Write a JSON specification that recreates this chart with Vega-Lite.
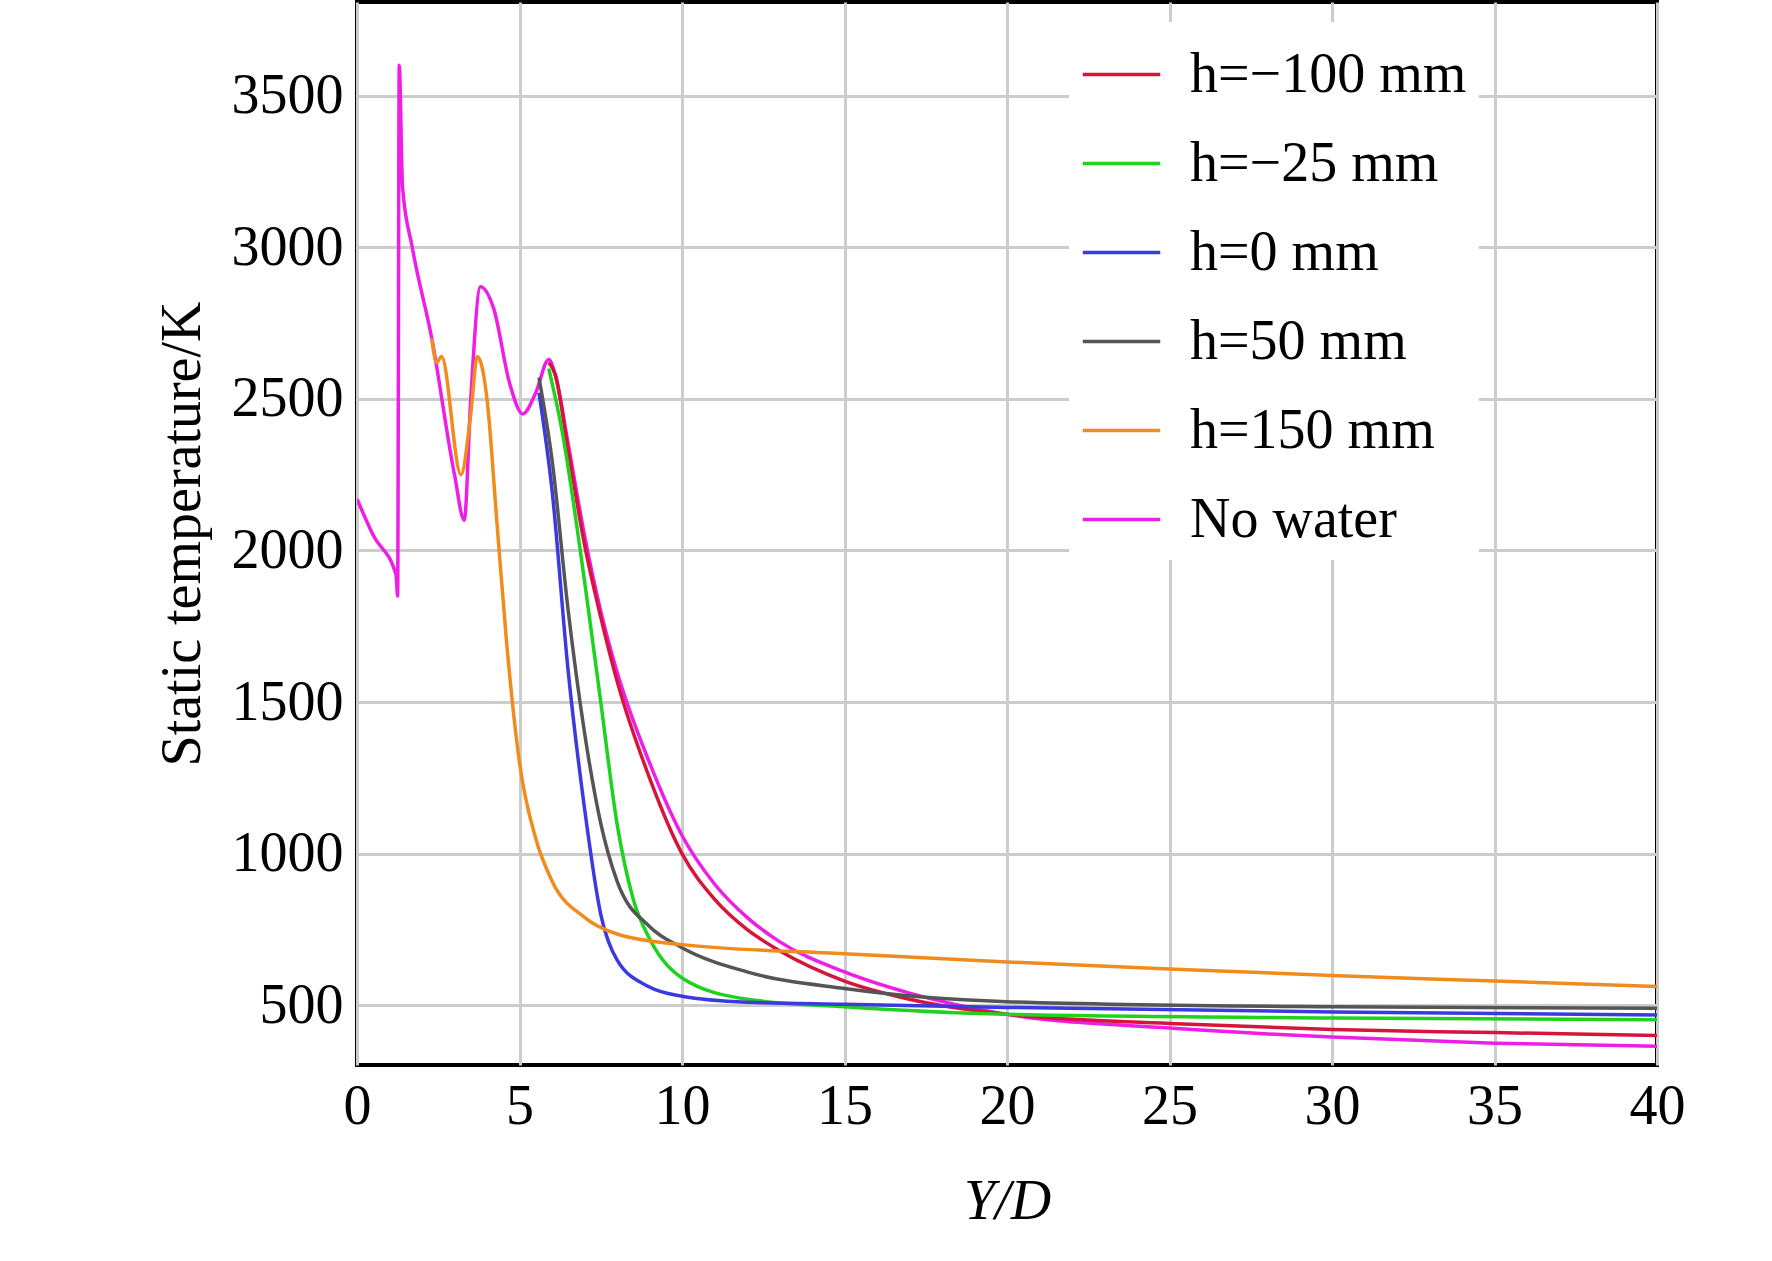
{
"$schema":"https://vega.github.io/schema/vega-lite/v6.json",
"width":1300,"height":1063,
"autosize":{"type":"none"},
"padding":{"left":357,"top":2,"right":115,"bottom":196},
"background":"white",
"config":{"font":"Liberation Serif","view":{"stroke":"black","strokeWidth":4}},
"data":{"values":[
{"s":"No water","x":0,"y":2170},{"s":"No water","x":0.5,"y":2050},{"s":"No water","x":1.2,"y":1920},{"s":"No water","x":1.25,"y":1850},{"s":"No water","x":1.3,"y":3600},{"s":"No water","x":1.4,"y":3200},{"s":"No water","x":1.7,"y":3000},{"s":"No water","x":2.3,"y":2700},{"s":"No water","x":3.0,"y":2250},{"s":"No water","x":3.3,"y":2100},{"s":"No water","x":3.5,"y":2500},{"s":"No water","x":3.8,"y":2870},{"s":"No water","x":4.2,"y":2800},{"s":"No water","x":4.7,"y":2550},{"s":"No water","x":5.1,"y":2450},{"s":"No water","x":5.5,"y":2520},{"s":"No water","x":5.9,"y":2630},{"s":"No water","x":6.1,"y":2580},{"s":"No water","x":6.5,"y":2350},{"s":"No water","x":7,"y":2050},{"s":"No water","x":7.5,"y":1800},{"s":"No water","x":8,"y":1600},{"s":"No water","x":9,"y":1300},{"s":"No water","x":10,"y":1060},{"s":"No water","x":11,"y":900},{"s":"No water","x":12,"y":790},{"s":"No water","x":13,"y":710},{"s":"No water","x":15,"y":610},{"s":"No water","x":17,"y":540},{"s":"No water","x":20,"y":470},{"s":"No water","x":25,"y":425},{"s":"No water","x":30,"y":395},{"s":"No water","x":35,"y":375},{"s":"No water","x":40,"y":365},
{"s":"h=−100 mm","x":5.9,"y":2620},{"s":"h=−100 mm","x":6.1,"y":2580},{"s":"h=−100 mm","x":6.5,"y":2330},{"s":"h=−100 mm","x":7,"y":2020},{"s":"h=−100 mm","x":7.5,"y":1780},{"s":"h=−100 mm","x":8,"y":1570},{"s":"h=−100 mm","x":9,"y":1250},{"s":"h=−100 mm","x":10,"y":1000},{"s":"h=−100 mm","x":11,"y":850},{"s":"h=−100 mm","x":12,"y":750},{"s":"h=−100 mm","x":13,"y":680},{"s":"h=−100 mm","x":15,"y":580},{"s":"h=−100 mm","x":17,"y":520},{"s":"h=−100 mm","x":20,"y":470},{"s":"h=−100 mm","x":25,"y":440},{"s":"h=−100 mm","x":30,"y":420},{"s":"h=−100 mm","x":35,"y":410},{"s":"h=−100 mm","x":40,"y":400},
{"s":"h=−25 mm","x":5.9,"y":2600},{"s":"h=−25 mm","x":6.3,"y":2400},{"s":"h=−25 mm","x":7,"y":1900},{"s":"h=−25 mm","x":7.5,"y":1500},{"s":"h=−25 mm","x":8,"y":1100},{"s":"h=−25 mm","x":8.5,"y":850},{"s":"h=−25 mm","x":9,"y":720},{"s":"h=−25 mm","x":10,"y":590},{"s":"h=−25 mm","x":12,"y":520},{"s":"h=−25 mm","x":15,"y":495},{"s":"h=−25 mm","x":20,"y":470},{"s":"h=−25 mm","x":30,"y":458},{"s":"h=−25 mm","x":40,"y":452},
{"s":"h=0 mm","x":5.6,"y":2520},{"s":"h=0 mm","x":6,"y":2200},{"s":"h=0 mm","x":6.5,"y":1600},{"s":"h=0 mm","x":7,"y":1150},{"s":"h=0 mm","x":7.5,"y":800},{"s":"h=0 mm","x":8,"y":650},{"s":"h=0 mm","x":9,"y":560},{"s":"h=0 mm","x":10,"y":530},{"s":"h=0 mm","x":12,"y":510},{"s":"h=0 mm","x":15,"y":503},{"s":"h=0 mm","x":20,"y":493},{"s":"h=0 mm","x":30,"y":478},{"s":"h=0 mm","x":40,"y":468},
{"s":"h=50 mm","x":5.6,"y":2570},{"s":"h=50 mm","x":6,"y":2300},{"s":"h=50 mm","x":6.5,"y":1800},{"s":"h=50 mm","x":7,"y":1400},{"s":"h=50 mm","x":7.5,"y":1100},{"s":"h=50 mm","x":8,"y":910},{"s":"h=50 mm","x":9,"y":760},{"s":"h=50 mm","x":10,"y":690},{"s":"h=50 mm","x":12,"y":610},{"s":"h=50 mm","x":15,"y":555},{"s":"h=50 mm","x":20,"y":512},{"s":"h=50 mm","x":30,"y":495},{"s":"h=50 mm","x":40,"y":490},
{"s":"h=150 mm","x":2.3,"y":2700},{"s":"h=150 mm","x":2.45,"y":2620},{"s":"h=150 mm","x":2.6,"y":2640},{"s":"h=150 mm","x":3.2,"y":2250},{"s":"h=150 mm","x":3.5,"y":2450},{"s":"h=150 mm","x":3.7,"y":2640},{"s":"h=150 mm","x":4.0,"y":2500},{"s":"h=150 mm","x":4.3,"y":2100},{"s":"h=150 mm","x":4.6,"y":1700},{"s":"h=150 mm","x":5,"y":1300},{"s":"h=150 mm","x":5.5,"y":1050},{"s":"h=150 mm","x":6,"y":910},{"s":"h=150 mm","x":7,"y":790},{"s":"h=150 mm","x":8,"y":735},{"s":"h=150 mm","x":10,"y":700},{"s":"h=150 mm","x":15,"y":670},{"s":"h=150 mm","x":20,"y":643},{"s":"h=150 mm","x":25,"y":620},{"s":"h=150 mm","x":30,"y":598},{"s":"h=150 mm","x":35,"y":580},{"s":"h=150 mm","x":40,"y":562}
]},
"mark":{"type":"line","strokeWidth":3.5,"clip":true,"interpolate":"monotone"},
"encoding":{
"x":{"field":"x","type":"quantitative","scale":{"domain":[0,40],"nice":false},"axis":{"values":[0,5,10,15,20,25,30,35,40],"format":"d","labelFlush":false,"title":"Y/D","titleFontStyle":"italic","titleFontWeight":"normal","titleFontSize":56,"labelFontSize":56,"titlePadding":40,"labelPadding":14,"gridColor":"#cccccc","gridWidth":3,"tickSize":0,"domain":false,"labelColor":"black","titleColor":"black"}},
"y":{"field":"y","type":"quantitative","scale":{"domain":[303,3809],"nice":false,"zero":false},"axis":{"values":[500,1000,1500,2000,2500,3000,3500],"format":"d","title":"Static temperature/K","titleFontWeight":"normal","titleFontSize":56,"labelFontSize":56,"titlePadding":20,"labelPadding":14,"gridColor":"#cccccc","gridWidth":3,"tickSize":0,"domain":false,"labelColor":"black","titleColor":"black"}},
"color":{"field":"s","type":"nominal","sort":["h=−100 mm","h=−25 mm","h=0 mm","h=50 mm","h=150 mm","No water"],
"scale":{"domain":["h=−100 mm","h=−25 mm","h=0 mm","h=50 mm","h=150 mm","No water"],"range":["#d6143c","#1ed21e","#3a3ae0","#555555","#f08c1e","#ee1ee6"]},
"legend":{"title":null,"orient":"none","legendX":712,"legendY":20,"fillColor":"white","padding":12,"symbolType":"stroke","symbolSize":6000,"symbolStrokeWidth":3.5,"labelFontSize":56,"labelLimit":600,"labelColor":"black","rowPadding":20,"labelOffset":28}},
"order":{"field":"x","type":"quantitative"}
}
}
